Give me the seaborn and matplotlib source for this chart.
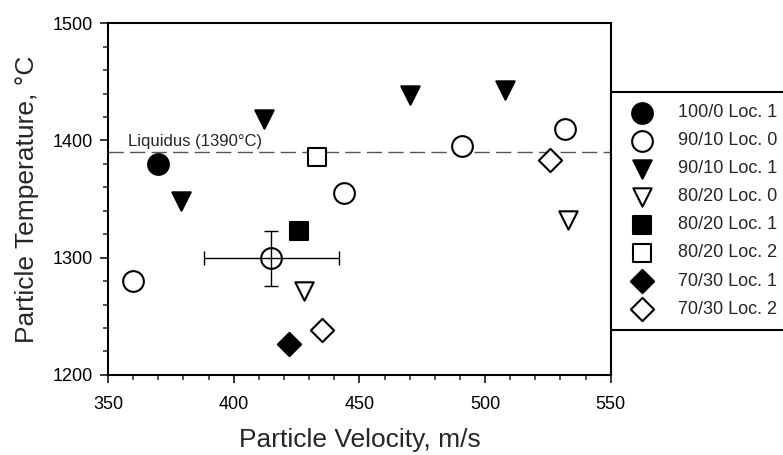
import matplotlib
matplotlib.use("Agg")
import seaborn as sns
from matplotlib import pyplot as plt
from matplotlib.ticker import MultipleLocator

# particle velocity (m/s) and temperature (degC) per powder / location
vel_100_0_loc1 = [370]
temp_100_0_loc1 = [1380]

vel_90_10_loc0 = [360, 415, 444, 491, 532]
temp_90_10_loc0 = [1280, 1300, 1355, 1395, 1410]

vel_90_10_loc1 = [379, 412, 470, 508]
temp_90_10_loc1 = [1348, 1418, 1439, 1443]

vel_80_20_loc0 = [428, 533]
temp_80_20_loc0 = [1272, 1332]

vel_80_20_loc1 = [426]
temp_80_20_loc1 = [1323]

vel_80_20_loc2 = [433]
temp_80_20_loc2 = [1386]

vel_70_30_loc1 = [422]
temp_70_30_loc1 = [1226]

vel_70_30_loc2 = [435, 526]
temp_70_30_loc2 = [1238, 1383]

# error bar on one 90/10 Loc. 0 point
err_vel = 415
err_temp = 1300
err_vel_bar = 27
err_temp_bar = [[24], [23]]

liquidus = 1390

sns.set_style("ticks")
plt.rcParams['font.family'] = ['Liberation Sans', 'DejaVu Sans']

fig = plt.figure(figsize=(7.83, 4.55), dpi=100)
ax = fig.add_axes([0.138, 0.176, 0.642, 0.773])

ax.axhline(liquidus, color='#555555', lw=1.0, dashes=(11, 4.5), zorder=1)
ax.text(358, 1395.5, 'Liquidus (1390°C)', fontsize=12, va='baseline',
        ha='left')

series = [
    ('100/0 Loc. 1', vel_100_0_loc1, temp_100_0_loc1, 'o', 'black', 222),
    ('90/10 Loc. 0', vel_90_10_loc0, temp_90_10_loc0, 'o', 'white', 222),
    ('90/10 Loc. 1', vel_90_10_loc1, temp_90_10_loc1, 'v', 'black', 175),
    ('80/20 Loc. 0', vel_80_20_loc0, temp_80_20_loc0, 'v', 'white', 175),
    ('80/20 Loc. 1', vel_80_20_loc1, temp_80_20_loc1, 's', 'black', 165),
    ('80/20 Loc. 2', vel_80_20_loc2, temp_80_20_loc2, 's', 'white', 165),
    ('70/30 Loc. 1', vel_70_30_loc1, temp_70_30_loc1, 'D', 'black', 140),
    ('70/30 Loc. 2', vel_70_30_loc2, temp_70_30_loc2, 'D', 'white', 140),
]

for name, vel, temp, mk, fc, size in series:
    sns.scatterplot(x=vel, y=temp, marker=mk, s=size, color=fc,
                    edgecolor='black', linewidth=1.5, label=name, ax=ax,
                    zorder=3)

ax.errorbar(err_vel, err_temp, xerr=err_vel_bar, yerr=err_temp_bar,
            fmt='none', ecolor='black', elinewidth=1.0, capsize=5,
            capthick=1.0, zorder=4)

ax.set_xlim(350, 550)
ax.set_ylim(1200, 1500)
ax.xaxis.set_major_locator(MultipleLocator(50))
ax.xaxis.set_minor_locator(MultipleLocator(10))
ax.yaxis.set_major_locator(MultipleLocator(100))
ax.yaxis.set_minor_locator(MultipleLocator(20))
ax.tick_params(which='major', length=6, width=1.1, direction='out',
               labelsize=13, pad=5, colors='black')
ax.tick_params(axis='x', which='major', pad=9)
ax.tick_params(which='minor', length=3.5, width=1.1, direction='out')
for sp in ax.spines.values():
    sp.set_linewidth(1.5)
    sp.set_color('black')
    sp.set_visible(True)

ax.set_xlabel('Particle Velocity, m/s', fontsize=19, labelpad=11)
ax.set_ylabel('Particle Temperature, °C', fontsize=19, labelpad=10)

leg = ax.legend(loc='upper left', bbox_to_anchor=(1.0, 0.805),
                borderaxespad=0, fontsize=13, frameon=True, fancybox=False,
                framealpha=1, edgecolor='black', borderpad=0.7,
                labelspacing=0.61, handlelength=2.1, handletextpad=0.9)
leg.get_frame().set_linewidth(1.5)

plt.savefig('out.png', dpi=100)
plt.close()
